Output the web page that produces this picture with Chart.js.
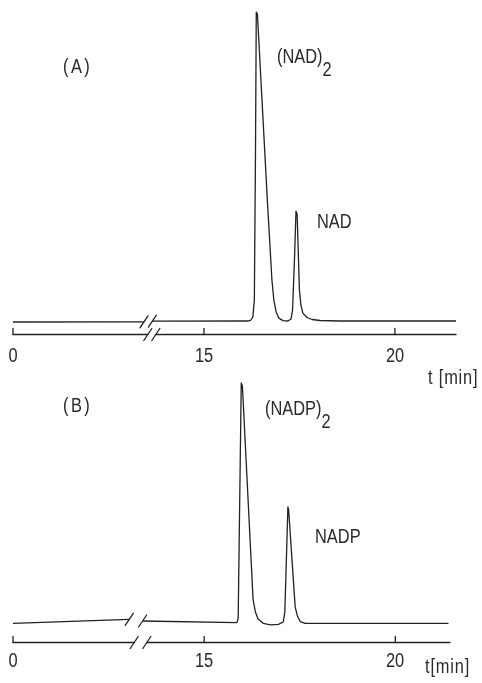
<!DOCTYPE html>
<html><head><meta charset="utf-8">
<script src="https://cdn.jsdelivr.net/npm/chart.js@4/dist/chart.umd.min.js"></script>
<style>
html,body{margin:0;padding:0;background:#fff;}
#wrap{position:relative;width:482px;height:683px;overflow:hidden;background:#fff;}
.box{position:absolute;left:0;width:482px;}
.lbl{position:absolute;font-family:"Liberation Sans",Arial,sans-serif;font-size:20px;line-height:20px;color:#2a2a2a;white-space:nowrap;transform:scaleX(0.82);transform-origin:left center;}
.lbl sub{font-size:20px;vertical-align:-13px;line-height:0;}
.tick{transform:translateX(-50%) scaleX(0.82);transform-origin:center center;}
</style></head><body>
<div id="wrap">
  <div class="box" style="top:0;height:392px"><canvas id="cA" width="482" height="392"></canvas></div>
  <div class="box" style="top:340px;height:343px"><canvas id="cB" width="482" height="343"></canvas></div>
  <div class="lbl" style="left:63px;top:56px;letter-spacing:3px">(A)</div>
  <div class="lbl" style="left:277px;top:46px">(NAD)<sub>2</sub></div>
  <div class="lbl" style="left:317px;top:211px">NAD</div>
  <div class="lbl" style="left:428px;top:367px;letter-spacing:1px">t [min]</div>
  <div class="lbl" style="left:63px;top:395px;letter-spacing:3px">(B)</div>
  <div class="lbl" style="left:265px;top:398px">(NADP)<sub>2</sub></div>
  <div class="lbl" style="left:315px;top:526px">NADP</div>
  <div class="lbl" style="left:425px;top:656px;letter-spacing:1px">t[min]</div>
</div>
<script>
// ---- data (time in minutes, detector signal in % of the largest peak) ----
const tickTimes = [0, 15, 20];
const tickLabels = ['0', '15', '20'];

const timesA = [0, 13.43, 13.55, 13.65, 16.15, 16.23, 16.28, 16.32, 16.35, 16.37, 16.40, 16.66, 16.78, 16.83, 16.89, 16.96, 17.07, 17.20, 17.28, 17.32, 17.37, 17.41, 17.44, 17.50, 17.54, 17.59, 17.70, 17.83, 18.04, 18.56, 21.60];
const signalA = [-0.16, -0.12, null, 0.1, 0.16, 0.48, 1.45, 6.9, 55.3, 99.8, 99.2, 39.2, 13.4, 6.9, 3.1, 1.1, 0.3, 0.16, 0.8, 3.7, 19.8, 35.6, 34.7, 10.2, 5.3, 2.7, 1.3, 0.65, 0.32, 0.16, 0.16];

const timesB = [0, 13.04, 13.2, 13.39, 15.86, 15.89, 15.93, 15.97, 16.00, 16.28, 16.34, 16.41, 16.55, 16.73, 16.94, 17.07, 17.11, 17.19, 17.21, 17.38, 17.44, 17.51, 17.64, 21.39];
const signalB = [-0.12, 1.54, null, 0.83, 0.12, 2.08, 51.2, 99.9, 98.6, 9.6, 4.6, 1.7, -0.2, -0.8, -0.6, 0.4, 4.6, 48.3, 47.0, 6.7, 2.9, 0.6, -0.2, -0.12];

// axis break: times before the break are compressed onto a short segment
const breakA = 13.43, axisGapA = [13.53, 13.74], endA = 21.6;
const breakB = 13.04, axisGapB = [13.17, 13.50], endB = 21.43;
const AXIS_START = 10;

const INK = '#222';

function makeMap(brk) {
  return t => (t <= brk ? AXIS_START + t * (brk - AXIS_START) / brk : t);
}

function slash(ctx, px, py) {
  ctx.beginPath();
  ctx.moveTo(px - 4, py + 6);
  ctx.lineTo(px + 4, py - 6);
  ctx.stroke();
}

function makeChart(id, boxTop, times, signal, brk, axisGap, end, yMin, yMax, pad, labelBaseline) {
  const toU = makeMap(brk);
  const pts = times.map((t, i) => ({x: toU(t), y: signal[i]}));
  const gapIdx = signal.indexOf(null);
  const axisPlugin = {
    id: 'brokenAxis',
    afterDatasetsDraw(chart) {
      const {ctx, chartArea, scales: {x, y}} = chart;
      ctx.save();
      ctx.strokeStyle = INK;
      ctx.lineWidth = 1.3;
      ctx.lineCap = 'round';
      const y0 = Math.round(chartArea.bottom) + 0.5;
      const xl = x.getPixelForValue(toU(0));
      const g1 = x.getPixelForValue(axisGap[0]);
      const g2 = x.getPixelForValue(axisGap[1]);
      const xr = x.getPixelForValue(end);
      ctx.beginPath();
      ctx.moveTo(xl, y0); ctx.lineTo(g1, y0);
      ctx.moveTo(g2, y0); ctx.lineTo(xr, y0);
      ctx.stroke();
      tickTimes.forEach(t => {
        const px = x.getPixelForValue(toU(t));
        ctx.beginPath(); ctx.moveTo(px, y0); ctx.lineTo(px, y0 - 6); ctx.stroke();
      });
      slash(ctx, g1, y0); slash(ctx, g2, y0);
      // trace break marks
      const p1 = pts[gapIdx - 1], p2 = pts[gapIdx + 1];
      slash(ctx, x.getPixelForValue(p1.x), y.getPixelForValue(p1.y));
      slash(ctx, x.getPixelForValue(p2.x), y.getPixelForValue(p2.y));
      ctx.restore();
    }
  };
  const chart = new Chart(document.getElementById(id), {
    type: 'line',
    data: {datasets: [{data: pts, borderColor: INK, borderWidth: 1.3, pointRadius: 0, tension: 0, spanGaps: false, borderJoinStyle: 'round', fill: false}]},
    options: {
      responsive: false, animation: false, events: [],
      layout: {padding: pad},
      plugins: {legend: {display: false}, tooltip: {enabled: false}},
      scales: {
        x: {type: 'linear', display: false, min: AXIS_START, max: end},
        y: {type: 'linear', display: false, min: yMin, max: yMax}
      }
    },
    plugins: [axisPlugin]
  });
  // tick labels as text, placed through the x scale
  const wrap = document.getElementById('wrap');
  tickTimes.forEach((t, i) => {
    const d = document.createElement('div');
    d.className = 'lbl tick';
    d.textContent = tickLabels[i];
    d.style.left = chart.scales.x.getPixelForValue(toU(t)) + 'px';
    d.style.top = (boxTop + labelBaseline - 17) + 'px';
    wrap.appendChild(d);
  });
  return chart;
}

makeChart('cA', 0, timesA, signalA, breakA, axisGapA, endA, -4.03, 100.5, {left: 13, right: 26, top: 10, bottom: 58}, 362);
makeChart('cB', 340, timesB, signalB, breakB, axisGapB, endB, -7.91, 101.1, {left: 13, right: 32, top: 40, bottom: 41}, 327);
</script>
</body></html>
